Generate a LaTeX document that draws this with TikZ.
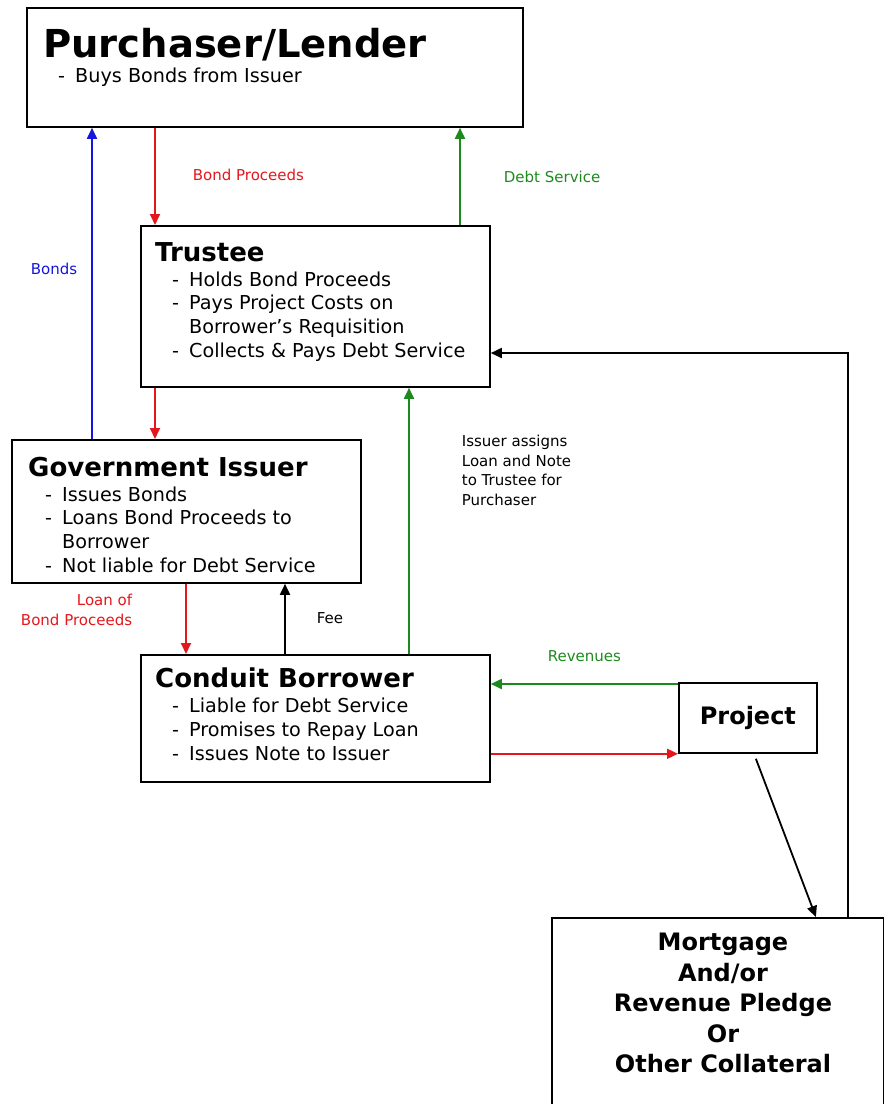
\documentclass[tikz,border=0pt]{standalone}
\usepackage{fontspec}
\setmainfont{DejaVu Sans}
\usetikzlibrary{arrows.meta, positioning}
\definecolor{FlowRed}{HTML}{E3171C}
\definecolor{FlowGreen}{HTML}{1E8A1E}
\definecolor{FlowBlue}{HTML}{1515E0}
\newcommand{\bline}[2][17pt]{\hspace*{#1}\makebox[17pt][l]{-}#2}
\newcommand{\contline}[1]{\hspace*{34pt}#1}
\begin{document}
\begin{tikzpicture}[x=1pt, y=-1pt,
      box/.style={draw, line width=1.8pt, inner sep=0pt, anchor=north west},
      boxtext/.style={anchor=north west, inner sep=0pt, align=left,
         font=\fontsize{19.2}{23.7}\selectfont},
      flow/.style={line width=1.8pt, -{Triangle[length=11pt,width=10pt]}},
      lbl/.style={inner sep=0pt, font=\fontsize{15}{19.5}\selectfont}]
   \useasboundingbox (0,0) rectangle (884,1104);
   % Boxes
   \node[box, minimum width=496pt, minimum height=119pt] (purchaser) at (26,7) {};
   \node[box, minimum width=349pt, minimum height=161pt] (trustee) at (140,225) {};
   \node[box, minimum width=349pt, minimum height=143pt] (issuer) at (11,439) {};
   \node[box, minimum width=349pt, minimum height=127pt] (borrower) at (140,654) {};
   \node[box, minimum width=138pt, minimum height=70pt,
      font=\bfseries\fontsize{24}{28}\selectfont] (project) at (678,682) {Project};
   \node[box, minimum width=332pt, minimum height=220pt] (collateral) at (551,917) {};
   % Box texts
   \node[boxtext] (purchasertext) at (43,28)
      {{\bfseries\fontsize{38.5}{44}\selectfont Purchaser/Lender}\\[1pt]
       \bline[15pt]{Buys Bonds from Issuer}};
   \node[boxtext] (trusteetext) at (155,242)
      {{\bfseries\fontsize{26}{30}\selectfont Trustee}\\[1.3pt]
       \bline{Holds Bond Proceeds}\\
       \bline{Pays Project Costs on}\\
       \contline{Borrower’s Requisition}\\
       \bline{Collects \& Pays Debt Service}};
   \node[boxtext] (issuertext) at (28,457)
      {{\bfseries\fontsize{26}{30}\selectfont Government Issuer}\\[1pt]
       \bline{Issues Bonds}\\
       \bline{Loans Bond Proceeds to}\\
       \contline{Borrower}\\
       \bline{Not liable for Debt Service}};
   \node[boxtext] (borrowertext) at (155,668)
      {{\bfseries\fontsize{26}{30}\selectfont Conduit Borrower}\\[1pt]
       \bline{Liable for Debt Service}\\
       \bline{Promises to Repay Loan}\\
       \bline{Issues Note to Issuer}};
   \node[align=center, inner sep=0pt, font=\bfseries\fontsize{24}{30.5}\selectfont]
      (collateraltext) at (723,1003)
      {Mortgage\\And/or\\Revenue Pledge\\Or\\Other Collateral};
   % Bonds (blue)
   \draw[flow, FlowBlue] (issuer.north -| 92,0) -- (purchaser.south -| 92,0)
      node[lbl, pos=0.546, left=14pt] {Bonds};
   % Bond proceeds (red)
   \draw[flow, FlowRed] (purchaser.south -| 155,0) -- (trustee.north -| 155,0)
      node[lbl, pos=0.485, right=37pt] {Bond Proceeds};
   \draw[flow, FlowRed] (trustee.south -| 155,0) -- (issuer.north -| 155,0);
   \draw[flow, FlowRed] (issuer.south -| 186,0) -- (borrower.north -| 186,0)
      node[lbl, pos=0.375, left=53pt, align=right] {Loan of\\Bond Proceeds};
   \draw[flow, FlowRed] (borrower.east |- project.south west) -- (project.south west);
   % Debt service (green)
   \draw[flow, FlowGreen] (trustee.north -| 460,0) -- (purchaser.south -| 460,0)
      node[lbl, pos=0.495, right=43pt] {Debt Service};
   \draw[flow, FlowGreen] (borrower.north -| 409,0) -- (trustee.south -| 409,0)
      node[lbl, pos=0.69, right=52pt, align=left, text=black]
      {Issuer assigns\\Loan and Note\\to Trustee for\\Purchaser};
   \draw[flow, FlowGreen] ([yshift=-2pt]project.north west) -- (borrower.east |- 0,684)
      node[lbl, midway, above=21pt] {Revenues};
   % Fee and collateral (black)
   \draw[flow] (borrower.north -| 285,0) -- (issuer.south -| 285,0)
      node[lbl, pos=0.51, right=31pt] {Fee};
   \draw[flow] ([shift={(8pt,-5pt)}]project.south) -- ([xshift=98pt]collateral.north);
   \draw[flow] (collateral.north -| 848,0) |- (trustee.east |- 0,353);
\end{tikzpicture}
\end{document}
